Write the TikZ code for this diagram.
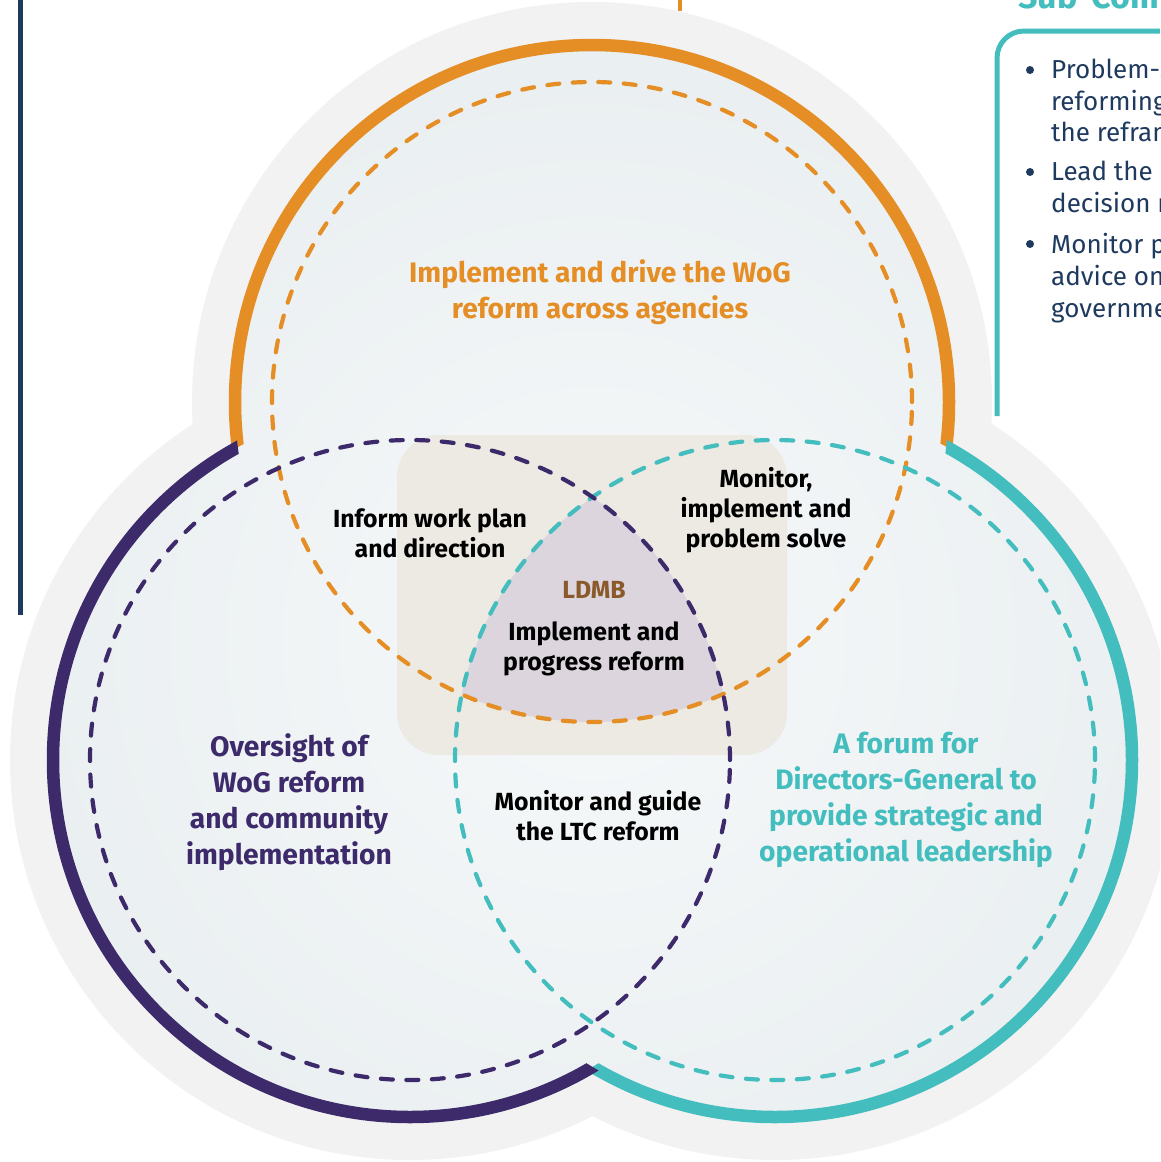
\documentclass[tikz,border=0pt]{standalone}
\usepackage{fontspec}
\setmainfont{Fira Sans}
\definecolor{cOr}{HTML}{E58E26}
\definecolor{cPu}{HTML}{3D2A6B}
\definecolor{cTe}{HTML}{43BDBE}
\definecolor{cNavy}{HTML}{1F3A5F}
\definecolor{cHalo}{HTML}{F2F2F2}
\definecolor{cFillIn}{HTML}{F6F9FA}
\definecolor{cFillOut}{HTML}{E9EEF0}
\definecolor{cBeige}{HTML}{ECEAE2}
\definecolor{cMauve}{HTML}{DCD5DE}
\definecolor{cBrown}{HTML}{8B5A2B}
\begin{document}
\begin{tikzpicture}[x=1pt,y=-1pt,
  dashc/.style={line width=4.2pt, line cap=round, dash pattern=on 12pt off 13.5pt},
  ringc/.style={line width=12.5pt},
  lbl/.style={align=center, inner sep=0pt, font=\bfseries\fontsize{28.2}{36}\selectfont},
  blk/.style={align=center, inner sep=0pt, text=black, font=\bfseries\fontsize{24.8}{30}\selectfont},
  bul/.style={anchor=mid west, inner sep=0pt, text=cNavy, font=\fontsize{26}{32}\selectfont},
  dotc/.style={fill=cNavy},
]
\useasboundingbox (0,0) rectangle (1160,1162);
\fill[white] (0,0) rectangle (1160,1162);
\clip (0,0) rectangle (1160,1162);

\coordinate (T) at (592,402);
\coordinate (L) at (410,760);
\coordinate (R) at (775,760);

% left navy rule
\coordinate (navyTop) at (20,-5);
\coordinate (navyBot) at (20,615);
\draw[cNavy, line width=5pt] (navyTop) -- (navyBot);

% halo
\fill[cHalo] (T) circle[radius=400pt] (L) circle[radius=400pt] (R) circle[radius=400pt];

% interior
\begin{scope}
  \clip (T) circle[radius=357pt] (L) circle[radius=357pt] (R) circle[radius=357pt];
  \shade[inner color=cFillIn, outer color=cFillOut] (592,640) circle[radius=620pt];
\end{scope}

% beige rounded box
\fill[cBeige, rounded corners=42pt] (397,435) rectangle (787,755);

% mauve centre
\begin{scope}
  \clip (T) circle[radius=320pt];
  \clip (L) circle[radius=320pt];
  \fill[cMauve] (R) circle[radius=320pt];
\end{scope}

% dashed circles
\draw[cOr, dashc] (T) circle[radius=320pt];
\draw[cTe, dashc] (R) circle[radius=320pt];
\draw[cPu, dashc] (L) circle[radius=320pt];

% solid outer rings
\begin{scope}[even odd rule]
  \clip (-100,-100) rectangle (1300,1300) (L) circle[radius=357pt];
  \clip (-100,-100) rectangle (1300,1300) (R) circle[radius=357pt];
  \draw[cOr, ringc] (T) circle[radius=357pt];
\end{scope}
\begin{scope}[even odd rule]
  \clip (-100,-100) rectangle (1300,1300) (L) circle[radius=357pt];
  \clip (-100,-100) rectangle (1300,1300) (T) circle[radius=357pt];
  \draw[cTe, ringc] (R) circle[radius=357pt];
\end{scope}
\begin{scope}[even odd rule]
  \clip (-100,-100) rectangle (1300,1300) (T) circle[radius=357pt];
  \clip (-100,-100) rectangle (1300,1300) (R) circle[radius=357pt];
  \draw[cPu, ringc] (L) circle[radius=357pt];
\end{scope}

% labels
\node[lbl, text=cOr] (topTxt) at (600,292) {Implement and drive the WoG\\reform across agencies};
\node[lbl, text=cPu] (leftTxt) at (289,802) {Oversight of\\WoG reform\\and community\\implementation};
\node[lbl, text=cTe] (rightTxt) at (906,800) {A forum for\\Directors-General to\\provide strategic and\\operational leadership};
\node[blk] (infTxt) at (430,533) {Inform work plan\\and direction};
\node[blk] (monTxt) at (766,510) {Monitor,\\implement and\\problem solve};
\node[font=\bfseries\fontsize{24.8}{30}\selectfont, text=cBrown, inner sep=0pt] (ldmb) at (594,590) {LDMB};
\node[blk] (implTxt) at (594,649) {Implement and\\progress reform};
\node[blk] (ltcTxt) at (598,816) {Monitor and guide\\the LTC reform};

% top fragments
\coordinate (tickTop) at (680,-2);
\coordinate (tickBot) at (680,11);
\draw[cOr, line width=3.5pt] (tickTop) -- (tickBot);
\node[anchor=base west, inner sep=0pt, text=cTe, font=\bfseries\fontsize{34}{40}\selectfont] (subHead) at (1018,8) {Sub-Com};

% right box
\coordinate (boxA) at (997,416);
\coordinate (boxB) at (997,31);
\coordinate (boxC) at (1175,31);
\draw[cTe, line width=5pt, rounded corners=27pt] (boxA) -- (boxB) -- (boxC);

\fill[dotc] (1030,70) circle[radius=4pt];
\fill[dotc] (1030,172) circle[radius=4pt];
\fill[dotc] (1030,244) circle[radius=4pt];
\node[bul] (b1a) at (1051,76) {Problem-s};
\node[bul] (b1b) at (1051,108) {reforming};
\node[bul] (b1c) at (1051,139) {the refram};
\node[bul] (b2a) at (1051,178) {Lead the};
\node[bul] (b2b) at (1051,210) {decision r};
\node[bul] (b3a) at (1051,251) {Monitor p};
\node[bul] (b3b) at (1051,283) {advice on};
\node[bul] (b3c) at (1051,315) {governme};
\end{tikzpicture}
\end{document}
